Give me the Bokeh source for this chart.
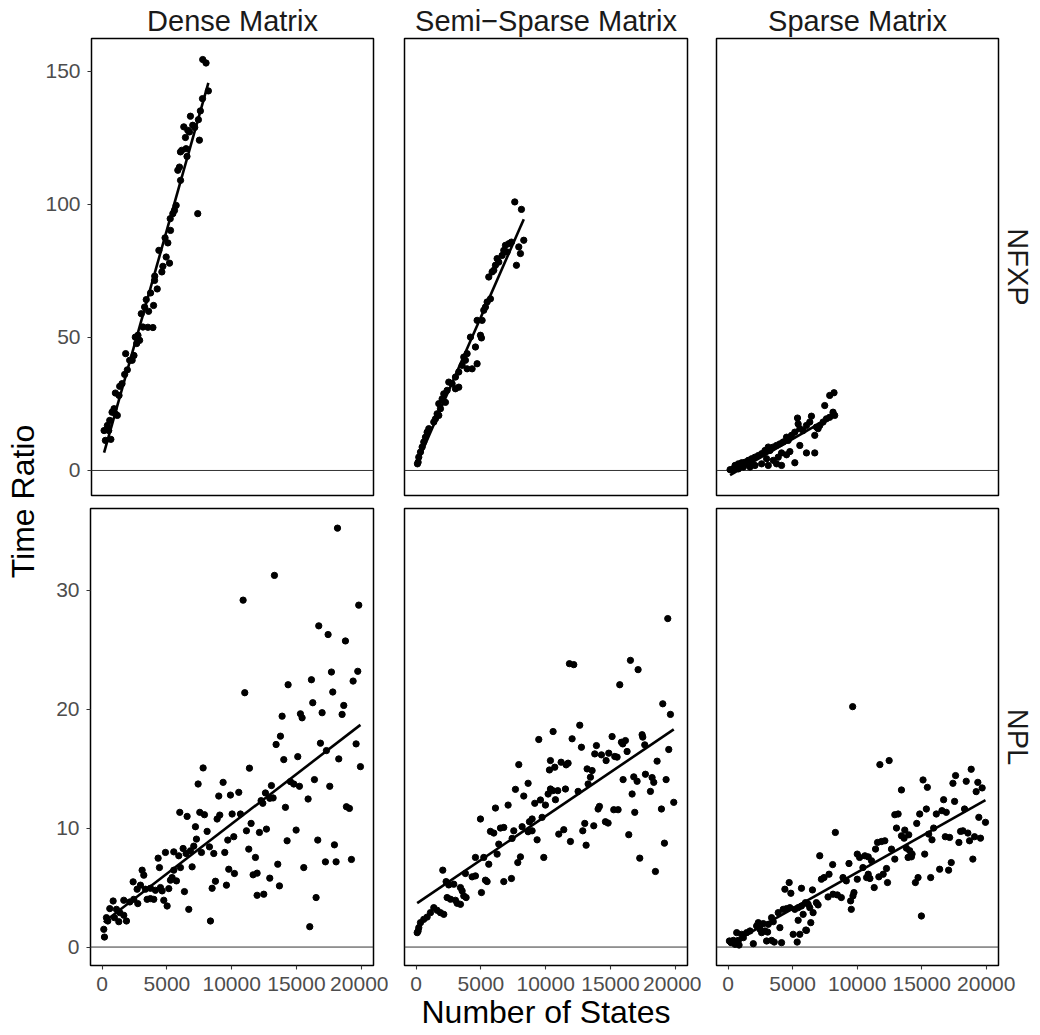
import numpy as np
from bokeh.plotting import figure
from bokeh.models import Range1d, FixedTicker, Span, Title, BasicTickFormatter
from bokeh.layouts import row, column
from bokeh.embed import file_html
from bokeh.resources import INLINE
from bokeh.core.properties import value

FONT = "Liberation Sans"

col_labels = ["Dense Matrix", "Semi\u2212Sparse Matrix", "Sparse Matrix"]
row_labels = ["NFXP", "NPL"]
x_ticks = [0, 5000, 10000, 15000, 20000]
y_ticks_nfxp = [0, 50, 100, 150]
y_ticks_npl = [0, 10, 20, 30]
x_title = "Number of States"
y_title = "Time Ratio"

# ---- NFXP, Dense Matrix
nfxp_dense_x = [7718, 7975, 8155, 7537, 6765, 7383, 6251, 6560, 6946, 6688, 6380, 7460, 6097, 5993, 6431,
                5916, 5788, 5659, 5530, 5402, 7332, 5221, 5016, 4321, 4887, 5144, 4630, 4552, 3986, 4192,
                3677, 3343, 3909, 3215, 2957, 3523, 3086, 3472, 3858, 2700, 2494, 2829, 1747, 2391, 2057,
                1876, 1670, 1464, 1285, 950, 1233, 847, 692, 950, 512, 332, 75, 435, 178,
                600, 1100, 2250, 2600, 4000, 4800, 5200, 6000, 6500, 7100, 7700]
nfxp_dense_y = [154.4, 153.1, 142.6, 135.1, 133.1, 131.8, 129.1, 127.8, 129.7, 127.2, 125.1, 124.1, 120.3, 119.7, 120.9,
                114.0, 112.8, 99.6, 97.7, 96.5, 96.5, 90.2, 85.5, 82.7, 80.2, 77.9, 76.7, 74.6, 71.4, 68.2,
                66.7, 64.2, 62.0, 61.4, 58.9, 59.8, 53.9, 53.8, 53.7, 50.8, 50.1, 48.9, 43.9, 43.2, 41.4,
                37.8, 36.1, 32.6, 31.6, 29.1, 28.2, 23.2, 21.9, 21.3, 18.8, 16.9, 15.0, 15.0, 11.3,
                11.7, 20.7, 41.4, 47.7, 73.0, 87.4, 94.6, 109.0, 118.0, 128.9, 139.7]

# ---- NFXP, Semi-Sparse Matrix
nfxp_semi_x = [7614, 8129, 8309, 7923, 8052, 7743, 6894, 7151, 7357, 6765, 7023, 6637, 6251, 6379, 6122,
               5993, 5607, 5865, 5736, 5479, 5350, 5221, 4707, 5093, 4192, 4964, 5041, 4578, 3935, 3677,
               3806, 3549, 4707, 4321, 3935, 3291, 3034, 2519, 2777, 3291, 3034, 2391, 2133, 2005, 2262,
               1747, 1876, 1619, 1490, 1747, 1361, 975, 847, 718, 589, 461, 332, 203, 152, 100]
nfxp_semi_y = [100.9, 98.1, 86.5, 84.0, 81.5, 77.1, 84.6, 85.2, 85.8, 82.7, 82.1, 80.8, 79.6, 78.3, 77.1,
               75.2, 72.7, 74.6, 64.5, 63.3, 61.4, 60.2, 56.4, 56.4, 50.1, 50.8, 49.8, 46.4, 43.9, 42.6,
               41.4, 39.5, 40.1, 38.2, 38.2, 37.0, 35.1, 33.2, 32.6, 31.3, 30.7, 30.1, 28.8, 26.9, 25.6,
               25.1, 23.2, 21.3, 19.4, 20.7, 18.2, 15.7, 14.4, 12.5, 10.7, 8.8, 6.9, 5.0, 3.1, 2.5]

# ---- NFXP, Sparse Matrix
nfxp_sparse_x = [8206, 7872, 7486, 8129, 8258, 7872, 7614, 7357, 7100, 6971, 6842, 5376, 5427, 6456, 6328,
                 6070, 5813, 6714, 5556, 5170, 4912, 4526, 4655, 4269, 4012, 3754, 3497, 3111, 3240, 2854,
                 2596, 2339, 2082, 1824, 1567, 1310, 1052, 795, 538, 409, 280, 152, 5556, 6070, 6714,
                 4784, 4140, 4526, 3883, 3497, 3754, 4140, 5170, 3111, 2596, 2082, 1696, 1181, 795, 2982]
nfxp_sparse_y = [29.2, 28.2, 24.4, 21.9, 20.7, 20.0, 19.4, 18.2, 16.9, 15.7, 16.3, 19.7, 17.5, 20.4, 18.2,
                 16.9, 15.0, 13.2, 15.7, 14.4, 13.2, 12.5, 11.3, 10.7, 10.0, 9.4, 8.8, 8.8, 7.5, 7.5,
                 6.3, 5.6, 5.0, 4.4, 3.8, 3.1, 2.9, 2.5, 1.9, 0.6, 0.2, 0.3, 9.4, 6.6, 6.6,
                 7.1, 6.6, 5.9, 5.0, 3.8, 2.5, 1.9, 2.9, 1.9, 2.5, 1.9, 1.3, 1.3, 0.6, 4.4]

# ---- NPL, Dense Matrix
npl_dense_x = [7795, 7409, 9339, 9004, 9905, 5993, 6560, 7537, 7898, 8876, 9081, 10034, 7203, 8104, 7280,
               9699, 10162, 4887, 5530, 5916, 6251, 6482, 6817, 7074, 7666, 8284, 8618, 9467, 4321, 4424,
               5530, 6045, 6946, 9776, 10214, 3086, 3215, 2391, 2700, 2957, 3343, 3729, 4115, 4501, 4630,
               5144, 5273, 5402, 5736, 6354, 8747, 8490, 9596, 1670, 2133, 2442, 2751, 3472, 3729, 3986,
               4758, 5016, 6688, 8361, 847, 589, 1104, 1361, 1670, 1876, 1285, 950, 332, 435, 126, 178,
               13302, 10883, 19812, 16724, 17445, 18783, 17702, 19735, 19375, 16158, 14357, 11011, 17805, 16261, 18654,
               16982, 18525, 13894, 15309, 15438, 13765, 13430, 16853, 19606, 17316, 14022, 15103, 18268, 19941, 11372,
               16390, 17573, 14537, 14794, 15232, 13070, 12607, 10548, 12272, 12401, 12941, 13199, 15901, 14151, 18860,
               19092, 10677, 11500, 11140, 12144, 12684, 14975, 11320, 14280, 16647, 17934, 11835, 13559, 17239, 18062,
               19246, 11655, 11964, 12941, 13688, 15566, 11964, 12478, 16518, 16029, 18170]
npl_dense_y = [15.05, 13.7, 13.84, 12.69, 12.77, 11.32, 10.98, 11.32, 11.12, 10.76, 11.09, 11.18, 10.11, 9.72, 9.07,
               8.99, 9.27, 7.95, 8.0, 7.67, 8.28, 7.86, 8.09, 8.48, 7.95, 8.42, 7.86, 7.95, 7.47, 6.68,
               6.46, 6.68, 6.74, 6.54, 6.18, 6.46, 6.04, 5.48, 4.86, 5.2, 4.86, 4.94, 4.77, 5.0, 4.72,
               4.91, 5.62, 5.84, 5.56, 4.66, 5.53, 4.94, 5.2, 3.93, 3.79, 4.01, 3.65, 4.01, 4.07, 4.01,
               3.93, 3.45, 3.17, 2.19, 3.87, 3.23, 3.17, 2.89, 2.67, 2.19, 2.13, 2.47, 2.47, 2.19, 1.49, 0.84,
               31.23, 29.15, 28.73, 26.99, 26.26, 25.72, 23.11, 23.17, 22.35, 22.46, 22.04, 21.37, 21.43, 20.53, 20.3,
               19.69, 19.55, 19.4, 19.6, 19.26, 17.72, 17.02, 17.13, 17.07, 16.51, 15.75, 16.0, 15.81, 15.16, 15.03,
               14.07, 13.51, 13.9, 13.7, 13.51, 13.57, 12.95, 13.0, 12.3, 12.08, 12.5, 12.53, 12.44, 11.74, 11.79,
               11.65, 11.18, 10.39, 9.77, 9.63, 9.91, 9.83, 8.23, 8.93, 8.99, 8.59, 7.53, 6.96, 7.16, 7.16,
               7.36, 6.07, 6.21, 5.79, 5.14, 6.68, 4.35, 4.44, 4.16, 1.71, 35.2]

# ---- NPL, Semi-Sparse Matrix
npl_semi_x = [9467, 7923, 10291, 8644, 7666, 8309, 9596, 10188, 9982, 9158, 6122, 7100, 4964, 8953, 8747,
              9725, 5736, 5993, 6508, 6765, 7537, 8181, 7409, 8644, 9339, 8953, 6379, 4578, 5221, 5607,
              6251, 8052, 7846, 9853, 3806, 4321, 2056, 2314, 2519, 2905, 3420, 4578, 5350, 5479, 6765,
              7357, 5041, 3549, 2391, 2648, 3034, 3163, 3420, 3677, 3858, 1361, 1619, 1876, 2133, 1104,
              847, 589, 332, 203, 150, 80,
              19426, 11835, 12169, 16544, 17136, 15720, 19040, 19632, 10574, 12632, 12041, 12761, 17445, 17496, 19503,
              17650, 13919, 15849, 16158, 15952, 16287, 15129, 13790, 14305, 14871, 14666, 15334, 15515, 10368, 11732,
              11192, 11578, 10702, 13199, 13585, 13456, 13276, 15978, 17702, 16801, 17059, 18217, 18603, 18345, 19298,
              10368, 10548, 10754, 10934, 11526, 12504, 16673, 18088, 19889, 18937, 16878, 14151, 14048, 15257, 15592,
              14614, 14820, 13018, 12864, 13713, 11011, 11397, 11912, 13122, 16415, 19169, 17264, 18474]
npl_semi_y = [17.44, 15.33, 14.88, 13.76, 13.25, 12.69, 12.36, 12.86, 11.93, 12.08, 11.68, 11.93, 10.76, 10.76, 10.53,
              10.9, 9.72, 9.58, 10.0, 10.05, 9.77, 10.11, 9.13, 9.69, 9.01, 9.77, 8.65, 7.53, 7.53, 6.96,
              7.81, 7.58, 7.1, 7.53, 6.18, 5.9, 6.46, 5.5, 5.22, 5.28, 5.0, 5.98, 5.62, 5.5, 5.5,
              5.76, 4.58, 4.72, 4.16, 4.02, 3.93, 3.68, 3.59, 4.3, 4.16, 3.31, 3.09, 2.89, 2.75, 2.89,
              2.52, 2.33, 2.05, 1.63, 1.35, 1.21,
              27.6, 23.81, 23.73, 24.09, 23.31, 22.04, 20.44, 19.55, 18.11, 18.64, 17.5, 16.79, 17.84, 17.64, 16.6,
              16.99, 16.93, 17.21, 17.35, 17.07, 16.43, 17.69, 16.23, 16.15, 16.29, 15.67, 16.01, 15.96, 15.67, 15.45,
              15.53, 15.31, 15.11, 14.97, 14.83, 14.27, 13.7, 14.07, 14.52, 14.3, 13.93, 14.24, 15.62, 13.84, 14.07,
              13.28, 13.14, 12.38, 13.14, 13.28, 13.08, 12.86, 13.08, 12.16, 11.6, 11.32, 11.82, 11.6, 11.54, 11.54,
              10.53, 10.42, 10.39, 9.77, 10.19, 9.49, 9.86, 8.87, 8.56, 9.44, 8.73, 7.47, 6.35]

# ---- NPL, Sparse Matrix
npl_sparse_x = [8309, 7100, 8100, 9364, 10008, 10188,
                4732, 4398, 4861, 5684, 6534, 7228, 7434, 7820, 8901, 9158, 10008, 10445,
                7743, 6971, 6842, 6199, 5993, 6328, 6585, 5813, 5427, 6405, 6019, 8129, 8772, 8463, 9750, 9673, 9493, 9544,
                3883, 4269, 4526, 4784, 5170, 5427, 5684,
                3368, 3497, 3111, 2725, 2339, 2210, 2468, 2596, 2854, 3060, 4012,
                1696, 1438, 1052, 666, 1181, 795, 409, 229, 100, 538, 847, 1953,
                2982, 3368, 3574, 4140, 5041, 5556, 5350, 6070,
                11758, 12478, 15103, 15438, 13430, 18834, 17625, 17419, 18449, 19349, 19220, 19683,
                16698, 17548, 16569, 16904, 16132, 15360, 14846, 14614, 12916, 13173, 18320, 19426, 19941,
                13044, 13688, 13430, 13996, 13636, 15926, 15540, 15797, 16827, 17162, 18011, 18191, 18577, 17882, 18706, 19092, 19555,
                11886, 11578, 12144, 11423, 12658, 12916, 13816, 14074, 14254, 13945, 14202, 15232,
                10600, 10857, 11114, 10857, 10728, 10986, 12272, 12015, 11680, 11320, 12350, 14717, 14511, 15695, 16390, 17084, 17290, 18963,
                14975, 9650]
npl_sparse_y = [9.63, 7.67, 6.93, 7.02, 7.81, 7.53,
                5.42, 4.86, 4.52, 4.94, 4.8, 5.7, 5.84, 6.12, 5.84, 5.56, 5.7, 6.68,
                4.21, 3.54, 3.73, 3.6, 3.73, 3.31, 2.89, 2.75, 2.25, 2.05, 1.43, 4.44, 4.16, 4.38, 4.58, 4.3, 3.88, 3.17,
                2.89, 3.17, 3.23, 3.31, 3.17, 3.31, 3.45,
                2.47, 2.13, 1.91, 1.97, 2.05, 1.77, 1.49, 1.21, 1.35, 1.26, 1.63,
                1.35, 1.21, 1.07, 1.21, 0.79, 0.56, 0.56, 0.37, 0.51, 0.23, 0.17, 0.28,
                0.51, 0.56, 0.42, 0.37, 1.07, 1.07, 0.42, 1.4,
                15.33, 15.67, 14.04, 13.42, 13.2, 14.94, 14.41, 13.76, 13.93, 13.84, 13.06, 13.37,
                12.38, 12.24, 11.46, 11.32, 11.18, 11.6, 11.18, 10.39, 11.12, 11.18, 11.6, 10.9, 10.48,
                10.0, 9.83, 9.35, 9.43, 9.15, 10.0, 9.49, 9.01, 9.27, 9.21, 9.72, 9.77, 9.58, 8.79, 8.93, 9.27, 9.15,
                8.87, 8.79, 8.93, 8.23, 8.23, 7.39, 8.31, 8.09, 7.81, 7.53, 7.58, 7.81,
                7.67, 7.58, 7.25, 6.12, 5.84, 5.76, 6.6, 6.12, 5.9, 5.0, 5.42, 5.84, 5.42, 5.84, 6.54, 6.46, 7.1, 7.39,
                2.61, 20.2]

panels = [
    [(nfxp_dense_x, nfxp_dense_y), (nfxp_semi_x, nfxp_semi_y), (nfxp_sparse_x, nfxp_sparse_y)],
    [(npl_dense_x, npl_dense_y), (npl_semi_x, npl_semi_y), (npl_sparse_x, npl_sparse_y)],
]

# layout geometry (px)
FRAME_W = 283
FRAME_H = 457
col_borders = [(48, 15), (16, 14), (15, 40)]
row_borders = [(38, 6), (7, 69)]
y_ranges = [(-9.4, 162.3), (-1.55, 36.85)]
y_ticks = [y_ticks_nfxp, y_ticks_npl]
YT_W = 42

TICK_FS = "21px"
STRIP_FS = "29px"
TITLE_FS = "32px"


def style_axis(ax):
    ax.axis_line_color = None
    ax.major_tick_line_color = "#333333"
    ax.major_tick_line_width = 1.1
    ax.major_tick_in = 0
    ax.major_tick_out = 4
    ax.minor_tick_line_color = None
    ax.major_label_text_font = FONT
    ax.major_label_text_font_size = TICK_FS
    ax.major_label_text_color = "#4d4d4d"
    ax.major_label_standoff = 7


rows = []
for r in range(2):
    figs = []
    for c in range(3):
        bl, br = col_borders[c]
        bt, bb = row_borders[r]
        p = figure(width=bl + FRAME_W + br, height=bt + FRAME_H + bb,
                   x_range=Range1d(-900, 20950), y_range=Range1d(*y_ranges[r]),
                   x_axis_location="below" if r == 1 else None,
                   y_axis_location="left" if c == 0 else None,
                   min_border_left=bl, min_border_right=br,
                   min_border_top=bt, min_border_bottom=bb,
                   title=col_labels[c] if r == 0 else None,
                   output_backend="svg", toolbar_location=None)
        p.background_fill_color = "white"
        p.border_fill_color = "white"
        p.outline_line_color = "black"
        p.outline_line_width = 1.5
        p.grid.grid_line_color = None
        if r == 0:
            p.title.align = "center"
            p.title.text_font = FONT
            p.title.text_font_size = STRIP_FS
            p.title.text_font_style = "normal"
            p.title.text_color = "#1a1a1a"
            p.title.standoff = 4
        if c == 2:
            t = Title(text=row_labels[r], align="center", text_font=FONT, text_font_size=STRIP_FS,
                      text_font_style="normal", text_color="#1a1a1a", standoff=7)
            p.add_layout(t, "right")
        if r == 1:
            p.xaxis.ticker = FixedTicker(ticks=x_ticks)
            p.xaxis.formatter = BasicTickFormatter(use_scientific=False)
            style_axis(p.xaxis[0])
            if c == 1:
                p.xaxis.axis_label = x_title
                p.xaxis.axis_label_text_font = FONT
                p.xaxis.axis_label_text_font_size = TITLE_FS
                p.xaxis.axis_label_text_font_style = "normal"
                p.xaxis.axis_label_text_color = "black"
                p.xaxis.axis_label_standoff = 0
        if c == 0:
            p.yaxis.ticker = FixedTicker(ticks=y_ticks[r])
            style_axis(p.yaxis[0])

        p.add_layout(Span(location=0, dimension="width", line_color="#333333",
                          line_width=1, level="underlay"))
        xs, ys = panels[r][c]
        xa = np.array(xs, dtype=float)
        ya = np.array(ys, dtype=float)
        p.scatter(xa, ya, size=6.3, color="black")
        b, a = np.polyfit(xa, ya, 1)
        lx = np.array([xa.min(), xa.max()])
        p.line(lx, a + b * lx, line_color="black", line_width=2.6)
        figs.append(p)
    rows.append(row(*figs))

total_h = sum(bt + FRAME_H + bb for bt, bb in row_borders)
gap_center = total_h - (row_borders[0][0] + FRAME_H + row_borders[0][1])

yt = figure(width=YT_W, height=total_h, x_range=Range1d(0, YT_W), y_range=Range1d(0, total_h),
            x_axis_location=None, y_axis_location=None, min_border=0,
            output_backend="svg", toolbar_location=None)
yt.outline_line_color = None
yt.grid.grid_line_color = None
yt.text(x=[22], y=[gap_center], text=[y_title], angle=np.pi / 2,
        text_align="center", text_baseline="middle", text_font=value(FONT),
        text_font_size=TITLE_FS, text_color="black")

layout = row(yt, column(*rows))
open("out.html", "w").write(file_html(layout, INLINE))
